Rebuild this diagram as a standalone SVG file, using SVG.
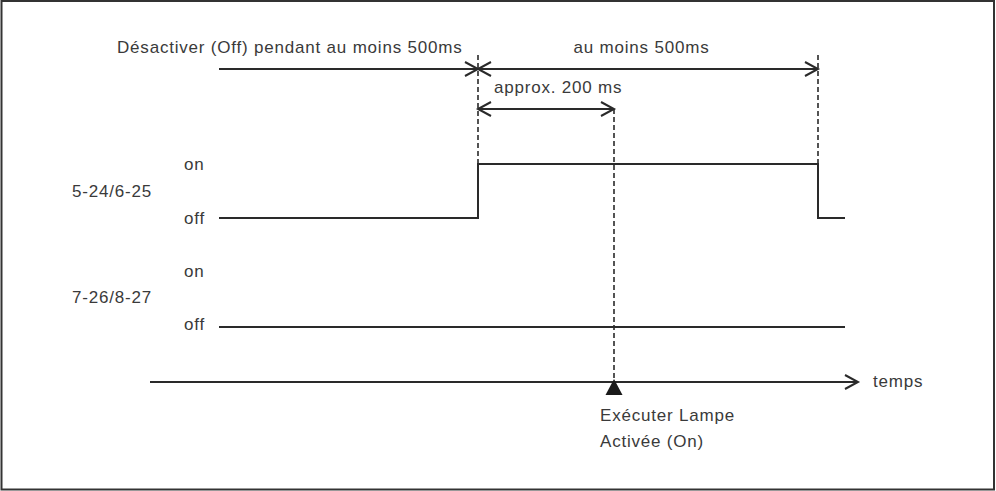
<svg xmlns="http://www.w3.org/2000/svg" width="996" height="491" viewBox="0 0 996 491">
<style>
text{font-family:"Liberation Sans",Arial,sans-serif;font-size:17px;fill:#3a3a3a;letter-spacing:0.8px}
.ln{stroke:#2a2a2a;stroke-width:2;fill:none}
.dash{stroke:#2a2a2a;stroke-width:1.6;fill:none;stroke-dasharray:5 3}
</style>
<defs>
<marker id="ah" markerUnits="userSpaceOnUse" viewBox="-15 -9 17 18" markerWidth="17" markerHeight="18" refX="0" refY="0" orient="auto-start-reverse" overflow="visible">
<path d="M-13,-7 L0,0 L-13,7" fill="none" stroke="#2a2a2a" stroke-width="2"/>
</marker>
</defs>
<rect x="1.5" y="1" width="992.5" height="488.5" fill="#fff" stroke="#333" stroke-width="2"/>
<g id="labels">
<text x="117" y="53">Désactiver (Off) pendant au moins 500ms</text>
<text x="641.5" y="53" text-anchor="middle">au moins 500ms</text>
<text x="494" y="93">approx. 200 ms</text>
<text x="184" y="170">on</text>
<text x="72" y="197">5-24/6-25</text>
<text x="184" y="224">off</text>
<text x="184" y="277">on</text>
<text x="72" y="303">7-26/8-27</text>
<text x="184" y="330">off</text>
<text x="873" y="387">temps</text>
<text x="600" y="421">Exécuter Lampe</text>
<text x="600" y="447">Activée (On)</text>
</g>
<g id="connectors">
<line class="dash" x1="478" y1="55" x2="478" y2="164"/>
<line class="dash" x1="818" y1="55" x2="818" y2="164"/>
<line class="dash" x1="614" y1="109" x2="614" y2="380"/>
<line class="ln" x1="219" y1="69" x2="478" y2="69" marker-end="url(#ah)"/>
<line class="ln" x1="478" y1="69" x2="818" y2="69" marker-start="url(#ah)" marker-end="url(#ah)"/>
<line class="ln" x1="478" y1="109" x2="614" y2="109" marker-start="url(#ah)" marker-end="url(#ah)"/>
<line class="ln" x1="150" y1="382" x2="858" y2="382" marker-end="url(#ah)"/>
</g>
<g id="signal1">
<polyline class="ln" points="219,218 478,218 478,164 818,164 818,218 845,218"/>
</g>
<g id="signal2">
<line class="ln" x1="219" y1="327" x2="845" y2="327"/>
</g>
<g id="trigger">
<polygon points="614,379 605.5,395 622.5,395" fill="#1a1a1a"/>
</g>
</svg>
